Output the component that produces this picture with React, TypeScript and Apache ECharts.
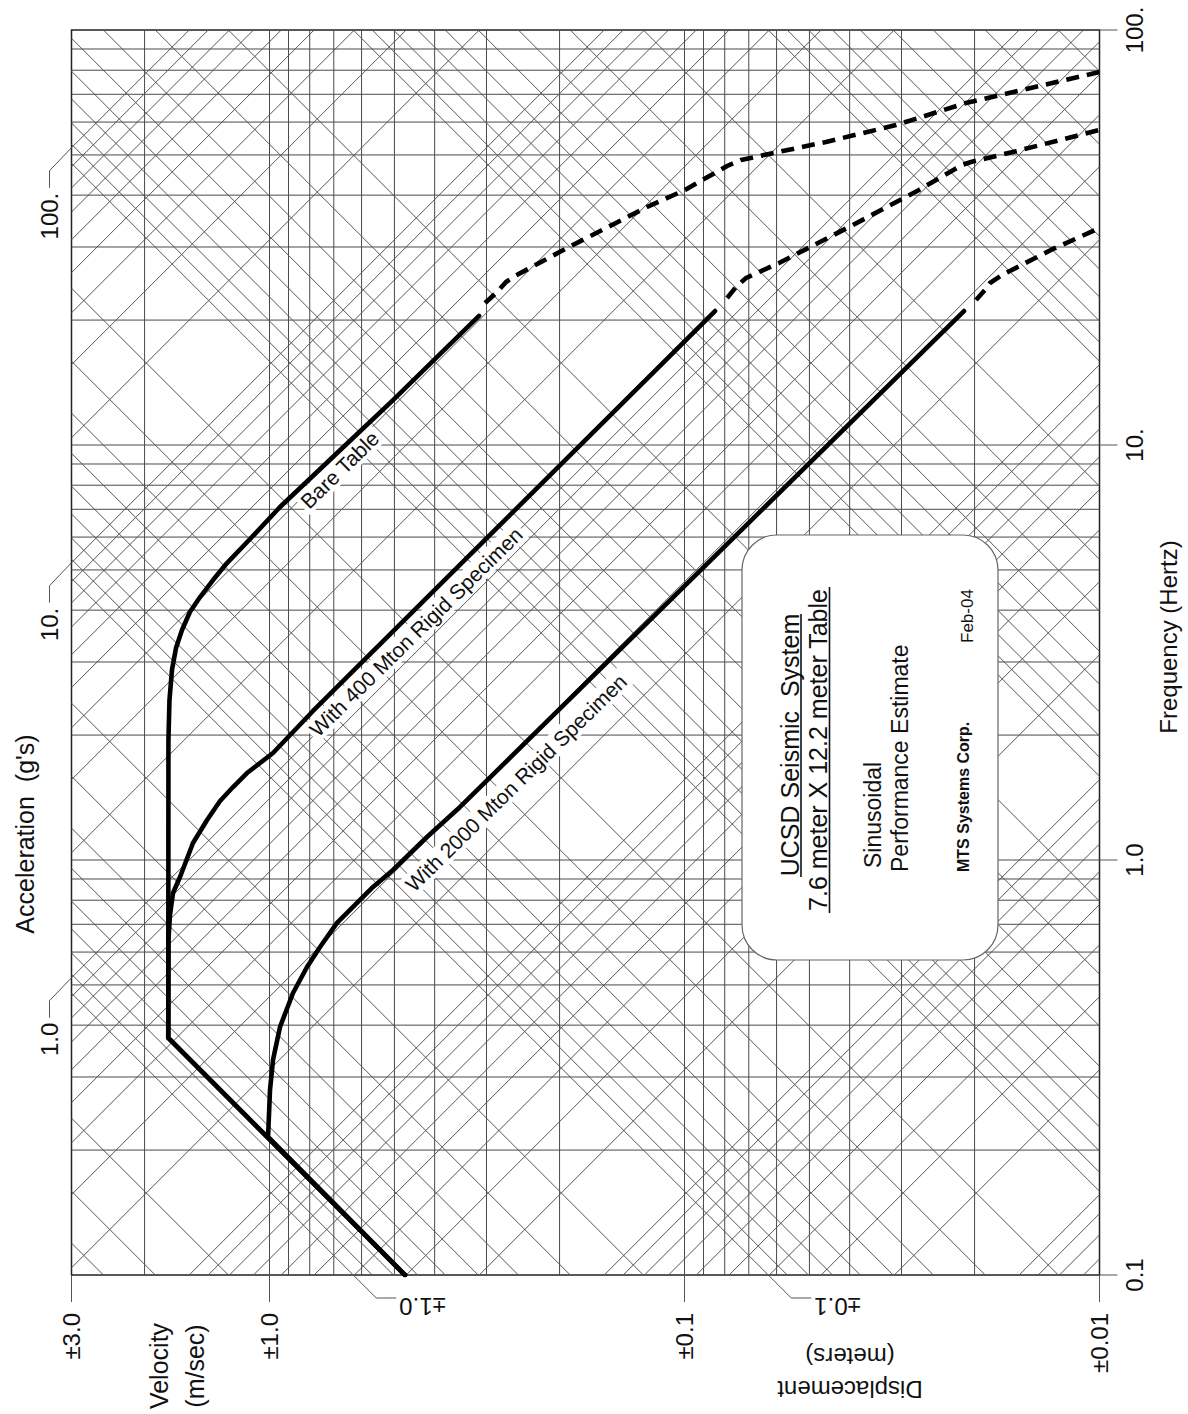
import React, { useEffect, useRef } from "react";
import * as echarts from "echarts";

const FONT = "'Liberation Sans', Arial, Helvetica, sans-serif";
const GRAVITY = 9.81;

// Axis ranges
const velocityRange = [0.01, 3]; // m/s (horizontal, decreasing to the right)
const frequencyRange = [0.1, 100]; // Hz (vertical)

// Grid lines
const velocityGridLines = [2, 1, 0.9, 0.8, 0.7, 0.6, 0.5, 0.4, 0.3, 0.2, 0.1, 0.09, 0.08, 0.07, 0.06, 0.05, 0.04, 0.03, 0.02];
const frequencyGridLines = [0.2, 0.3, 0.4, 0.5, 0.6, 0.7, 0.8, 0.9, 1, 2, 3, 4, 5, 6, 7, 8, 9, 10, 20, 30, 40, 50, 60, 70, 80, 90];
const gridMantissas = [1, 2, 3, 4, 5, 6, 7, 8, 9];
const accelerationDecades = [0.0001, 0.001, 0.01, 0.1, 1, 10, 100]; // g
const displacementDecades = [0.00001, 0.0001, 0.001, 0.01, 0.1, 1]; // m

// Tick labels
const velocityTicks = [3, 1, 0.1, 0.01];
const velocityTickLabels = ["±3.0", "±1.0", "±0.1", "±0.01"];
const frequencyTicks = [100, 10, 1, 0.1];
const frequencyTickLabels = ["100.", "10.", "1.0", "0.1"];
const accelerationTicks = [100, 10, 1];
const accelerationTickLabels = ["100.", "10.", "1.0"];
const displacementTicks = [1, 0.1];
const displacementTickLabels = ["±1.0", "±0.1"];

// Curves: frequency (Hz) and velocity (m/s)
const bareFreq = [0.1, 0.3725, 1.946, 2.429, 2.87, 3.242, 3.583, 3.96, 4.302, 4.727, 5.195, 5.935, 7.088, 9.461, 12.83, 20.46];
const bareVel = [0.4716, 1.7536, 1.752, 1.742, 1.718, 1.68, 1.625, 1.555, 1.47, 1.368, 1.266, 1.114, 0.9434, 0.6953, 0.5039, 0.3127];
const bareDashFreq = [21.99, 23.37, 24.71, 25.54, 29.83, 37.45, 41.17, 47.02, 48.62, 50.27, 53.72, 59.03, 66.69, 79.21];
const bareDashVel = [0.3024, 0.2829, 0.2692, 0.2561, 0.1919, 0.1231, 0.09972, 0.07895, 0.07308, 0.06257, 0.04561, 0.03093, 0.02098, 0.01];

const m400Freq = [0.1, 0.3725, 0.6415, 0.7372, 0.8329, 0.9101, 1.099, 1.248, 1.387, 1.499, 1.62, 1.811, 2.286, 21.03];
const m400Vel = [0.4716, 1.7536, 1.752, 1.737, 1.708, 1.643, 1.529, 1.414, 1.316, 1.224, 1.133, 0.9808, 0.7855, 0.08442];
const m400DashFreq = [22.61, 24.03, 25.26, 27.45, 33.52, 41.17, 47.28, 48.08, 50.82, 57.42];
const m400DashVel = [0.07895, 0.07515, 0.07109, 0.0592, 0.04013, 0.02722, 0.02145, 0.0204, 0.01616, 0.01];

const m2000Freq = [0.1, 0.2151, 0.2791, 0.3297, 0.396, 0.4781, 0.5522, 0.6172, 0.7052, 0.7705, 0.8609, 0.946, 1.136, 1.342, 21.03];
const m2000Vel = [0.4716, 1.008, 0.9972, 0.9808, 0.9434, 0.8777, 0.8121, 0.7555, 0.6876, 0.6292, 0.563, 0.5039, 0.4174, 0.3474, 0.02121];
const m2000DashFreq = [22.36, 23.63, 24.57, 25.68, 29.51, 33.33];
const m2000DashVel = [0.01984, 0.01888, 0.01836, 0.01718, 0.01309, 0.01];

const pairs = (fr: number[], vel: number[]) => fr.map((f, i) => [vel[i], f]);

const logVmin = Math.log10(velocityRange[0]);
const logVmax = Math.log10(velocityRange[1]);
const logFmin = Math.log10(frequencyRange[0]);
const logFmax = Math.log10(frequencyRange[1]);

function accelerationLine(a: number) {
  const c = Math.log10((a * GRAVITY) / (2 * Math.PI)); // logV + logF = c
  const w1 = Math.max(logFmin, c - logVmax);
  const w2 = Math.min(logFmax, c - logVmin);
  if (w2 - w1 < 1e-6) return null;
  return [10 ** (c - w1), 10 ** w1, 10 ** (c - w2), 10 ** w2];
}
function displacementLine(d: number) {
  const c = Math.log10(2 * Math.PI * d); // logV - logF = c
  const w1 = Math.max(logFmin, logVmin - c);
  const w2 = Math.min(logFmax, logVmax - c);
  if (w2 - w1 < 1e-6) return null;
  return [10 ** (c + w1), 10 ** w1, 10 ** (c + w2), 10 ** w2];
}

const orthoData: number[][] = [
  ...velocityGridLines.map((v) => [v, frequencyRange[0], v, frequencyRange[1]]),
  ...frequencyGridLines.map((f) => [velocityRange[0], f, velocityRange[1], f]),
];
const diagData: number[][] = [];
accelerationDecades.forEach((dec) =>
  gridMantissas.forEach((m) => {
    const s = accelerationLine(m * dec);
    if (s) diagData.push(s);
  })
);
displacementDecades.forEach((dec) =>
  gridMantissas.forEach((m) => {
    const s = displacementLine(m * dec);
    if (s) diagData.push(s);
  })
);

const lineRenderer = (color: string, width: number) => (_params: any, api: any) => {
  const p1 = api.coord([api.value(0), api.value(1)]);
  const p2 = api.coord([api.value(2), api.value(3)]);
  return {
    type: "line",
    silent: true,
    shape: { x1: p1[0], y1: p1[1], x2: p2[0], y2: p2[1] },
    style: { stroke: color, lineWidth: width },
  };
};

const curveSeries = (name: string, data: number[][], dashed: boolean) => ({
  name,
  type: "line",
  data,
  symbol: "none",
  z: 10,
  silent: true,
  lineStyle: { color: "#000", width: 4.6, type: dashed ? [13, 8] : "solid", cap: dashed ? "butt" : "round", join: "round" },
});

function txt(x: number, y: number, text: string, rotation: number, size: number, align: string, va: string, extra: any = {}) {
  return {
    type: "text",
    x,
    y,
    rotation,
    z: extra.z ?? 20,
    silent: true,
    style: {
      text,
      font: `${extra.weight || "normal"} ${size}px ${FONT}`,
      fill: "#111",
      align,
      verticalAlign: va,
      textAlign: align,
      textVerticalAlign: va,
      lineHeight: extra.lineHeight,
      backgroundColor: extra.bg,
      padding: extra.padding,
    },
  };
}
function seg(x1: number, y1: number, x2: number, y2: number, stroke = "#444", w = 1, z = 20) {
  return { type: "line", silent: true, z, shape: { x1, y1, x2, y2 }, style: { stroke, lineWidth: w } };
}
function poly(points: number[][], stroke = "#444", w = 1) {
  return { type: "polyline", silent: true, z: 20, shape: { points }, style: { stroke, lineWidth: w, fill: null } };
}

function buildGraphic(chart: any) {
  const toPx = (v: number, f: number) => chart.convertToPixel({ gridIndex: 0 }, [v, f]) as number[];
  const els: any[] = [];
  const R90 = Math.PI / 2;

  velocityTicks.forEach((v, i) => {
    const [x, y] = toPx(v, frequencyRange[0]);
    els.push(seg(x, y, x, y + 27, "#555"));
    els.push(txt(x, y + 38, velocityTickLabels[i], R90, 24, "right", "middle"));
  });
  frequencyTicks.forEach((f, i) => {
    const [x, y] = toPx(velocityRange[0], f);
    els.push(seg(x, y, x + 18, y, "#555"));
    els.push(txt(x + 35, y, frequencyTickLabels[i], R90, 24, "center", "middle"));
  });
  accelerationTicks.forEach((a, i) => {
    const f = (a * GRAVITY) / (2 * Math.PI * velocityRange[1]);
    const [x, y] = toPx(velocityRange[1], f);
    els.push(poly([[x, y], [x - 22, y + 23], [x - 22, y + 40]], "#555"));
    els.push(txt(x - 22, y + 45, accelerationTickLabels[i], R90, 24, "right", "middle"));
  });
  displacementTicks.forEach((d, i) => {
    const v = 2 * Math.PI * frequencyRange[0] * d;
    const [x, y] = toPx(v, frequencyRange[0]);
    els.push(poly([[x, y], [x + 23, y + 23], [x + 43, y + 23]], "#555"));
    els.push(txt(x + 46, y + 31, displacementTickLabels[i], Math.PI, 24, "right", "middle"));
  });

  // Axis titles
  els.push(txt(25, 834, "Acceleration  (g's)", R90, 25, "center", "middle"));
  els.push(txt(1168, 637, "Frequency (Hertz)", R90, 24, "center", "middle"));
  els.push(txt(177, 1366, "Velocity\n(m/sec)", R90, 25, "center", "middle", { lineHeight: 36 }));
  els.push(txt(850, 1373, "Displacement\n(meters)", Math.PI, 24, "center", "middle", { lineHeight: 33 }));

  // Curve labels
  const ang = 0.776;
  const lab = { bg: "#fff", padding: [1, 3], z: 8 };
  els.push(txt(310, 515, "Bare Table", ang, 21, "left", "bottom", lab));
  els.push(txt(319, 743, "With 400 Mton Rigid Specimen", ang, 21, "left", "bottom", lab));
  els.push(txt(415, 898, "With 2000 Mton Rigid Specimen", ang, 21, "left", "bottom", lab));

  // Information box
  els.push({
    type: "rect",
    silent: true,
    z: 15,
    shape: { x: 742, y: 535, width: 256, height: 425, r: 35 },
    style: { fill: "#fff", stroke: "#666", lineWidth: 1.2 },
  });
  els.push(txt(790, 745, "UCSD Seismic  System", R90, 25, "center", "middle", { z: 16 }));
  els.push(seg(801, 614, 801, 877, "#111", 1.6, 16));
  els.push(txt(818, 750, "7.6 meter X 12.2 meter Table", R90, 25, "center", "middle", { z: 16 }));
  els.push(seg(829.5, 587, 829.5, 913, "#111", 1.6, 16));
  els.push(txt(873, 868, "Sinusoidal", R90, 23, "left", "middle", { z: 16 }));
  els.push(txt(900, 872, "Performance Estimate", R90, 23, "left", "middle", { z: 16 }));
  els.push(txt(963, 872, "MTS Systems Corp.", R90, 16, "left", "middle", { z: 16, weight: "bold" }));
  els.push(txt(967, 643, "Feb-04", R90, 17, "left", "middle", { z: 16 }));
  return els;
}

export default function App() {
  const ref = useRef<HTMLDivElement>(null);
  useEffect(() => {
    const chart = echarts.init(ref.current!, null, { renderer: "svg" });
    chart.setOption({
      animation: false,
      backgroundColor: "#fff",
      grid: { left: 71.5, top: 30, width: 1028, height: 1245, show: true, borderColor: "#222", borderWidth: 1.5, backgroundColor: "transparent" },
      xAxis: {
        type: "log",
        logBase: 10,
        min: velocityRange[0],
        max: velocityRange[1],
        inverse: true,
        axisLine: { show: false },
        axisTick: { show: false },
        axisLabel: { show: false },
        splitLine: { show: false },
      },
      yAxis: {
        type: "log",
        logBase: 10,
        min: frequencyRange[0],
        max: frequencyRange[1],
        axisLine: { show: false },
        axisTick: { show: false },
        axisLabel: { show: false },
        splitLine: { show: false },
      },
      series: [
        { type: "custom", name: "orthoGrid", data: orthoData, encode: { x: [0, 2], y: [1, 3] }, renderItem: lineRenderer("#4a4a4a", 1), z: 1, silent: true },
        { type: "custom", name: "diagGrid", data: diagData, encode: { x: [0, 2], y: [1, 3] }, renderItem: lineRenderer("#555", 1), z: 1, silent: true },
        curveSeries("Bare Table", pairs(bareFreq, bareVel), false),
        curveSeries("Bare Table est.", pairs(bareDashFreq, bareDashVel), true),
        curveSeries("With 400 Mton Rigid Specimen", pairs(m400Freq, m400Vel), false),
        curveSeries("With 400 Mton est.", pairs(m400DashFreq, m400DashVel), true),
        curveSeries("With 2000 Mton Rigid Specimen", pairs(m2000Freq, m2000Vel), false),
        curveSeries("With 2000 Mton est.", pairs(m2000DashFreq, m2000DashVel), true),
      ],
    });
    chart.setOption({ graphic: { elements: buildGraphic(chart) } });
    return () => chart.dispose();
  }, []);
  return <div ref={ref} style={{ position: "absolute", left: 0, top: 0, width: 1188, height: 1414, background: "#fff" }} />;
}
